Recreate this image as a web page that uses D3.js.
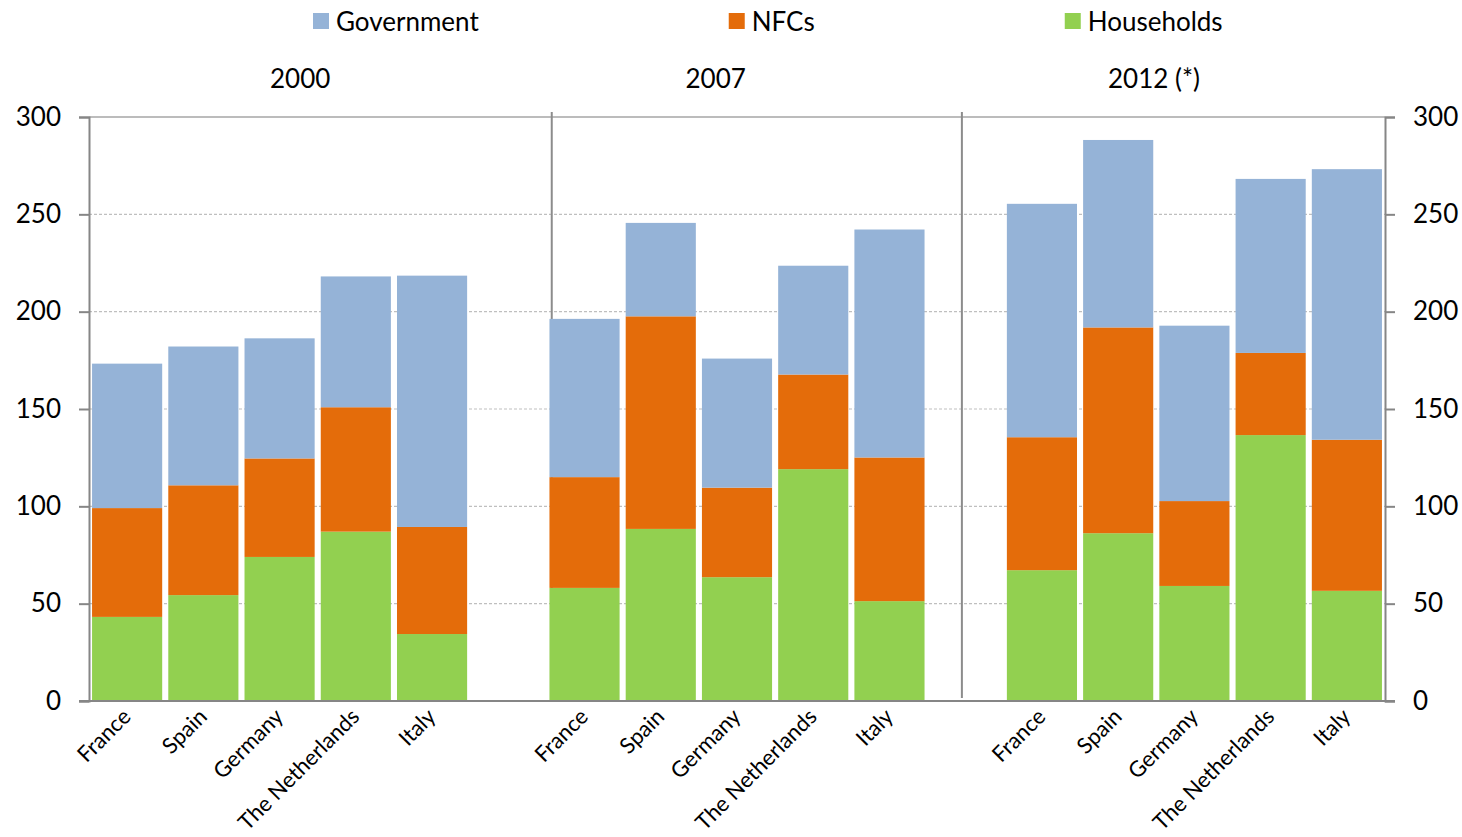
<!DOCTYPE html>
<html>
<head>
<meta charset="utf-8">
<script src="https://cdn.jsdelivr.net/npm/d3@7/dist/d3.min.js"></script>
<style>
  html, body { margin: 0; padding: 0; background: #fff; }
  svg { display: block; font-family: Lato, "Open Sans", sans-serif; }
</style>
</head>
<body>
<svg id="chart" width="1462" height="837"></svg>
<script>
// Debt by sector (% of GDP), stacked per country for three years
const years = ["2000", "2007", "2012 (*)"];
const countries = ["France", "Spain", "Germany", "The Netherlands", "Italy"];
const seriesNames = ["Households", "NFCs", "Government"];
const legendOrder = ["Government", "NFCs", "Households"];
const seriesColors = ["#92D050", "#E46C0A", "#95B3D7"];

// values listed year by year, countries in the order above
const households = [43.2, 54.4, 74.0, 87.0, 34.4,
                    58.1, 88.4, 63.6, 119.1, 51.3,
                    67.2, 86.2, 59.1, 136.6, 56.6];
const nfcs       = [55.9, 56.4, 50.6, 63.9, 55.0,
                    56.9, 109.2, 46.0, 48.6, 73.8,
                    68.3, 105.7, 43.6, 42.2, 77.6];
const government = [74.2, 71.3, 61.7, 67.2, 129.1,
                    81.3, 48.0, 66.3, 55.9, 117.1,
                    119.9, 96.3, 90.1, 89.4, 139.0];

const yTicks = [0, 50, 100, 150, 200, 250, 300];

const svg = d3.select("#chart");
const W = 1462, H = 837;
const margin = { top: 117, right: 77, bottom: 136, left: 89 };
const x0 = margin.left, x1 = W - margin.right;
const yTop = margin.top, yBot = H - margin.bottom;

// one slot per bar plus an empty slot between year groups
const slotsPerGroup = countries.length + 1;
const nSlots = years.length * slotsPerGroup - 1;

const rows = [];
years.forEach((yr, g) => {
  countries.forEach((c, i) => {
    const k = g * countries.length + i;
    rows.push({
      slot: g * slotsPerGroup + i, year: yr, country: c,
      Households: households[k], NFCs: nfcs[k], Government: government[k]
    });
  });
});

const x = d3.scaleBand()
  .domain(d3.range(nSlots))
  .range([x0, x1])
  .paddingInner(0.08)
  .paddingOuter(0.04);

// continuous slot scale for group dividers and year titles
const xs = d3.scaleLinear().domain([0, nSlots]).range([x0, x1]);

const y = d3.scaleLinear().domain([0, 300]).range([yBot, yTop]);

const color = d3.scaleOrdinal().domain(seriesNames).range(seriesColors);

// gridlines
svg.append("g")
  .selectAll("line")
  .data(yTicks.filter(t => t > 0 && t < 300))
  .join("line")
  .attr("x1", x0).attr("x2", x1)
  .attr("y1", d => y(d)).attr("y2", d => y(d))
  .attr("stroke", "#bfbfbf")
  .attr("stroke-width", 1.2)
  .attr("stroke-dasharray", "3,2");

// top border of the plot area
svg.append("line")
  .attr("x1", x0).attr("x2", x1)
  .attr("y1", y(300)).attr("y2", y(300))
  .attr("stroke", "#a6a6a6").attr("stroke-width", 1.5);

// group dividers
const dividerSlots = [6.07, 11.45];
svg.append("g")
  .selectAll("line")
  .data(dividerSlots)
  .join("line")
  .attr("x1", d => xs(d)).attr("x2", d => xs(d))
  .attr("y1", yTop - 5).attr("y2", (d, i) => i === 0 ? yBot : yBot - 3)
  .attr("stroke", "#8c8c8c").attr("stroke-width", 2);

// stacked bars
const stack = d3.stack().keys(seriesNames);
const stacked = stack(rows);

svg.append("g")
  .selectAll("g")
  .data(stacked)
  .join("g")
  .attr("fill", d => color(d.key))
  .selectAll("rect")
  .data(d => d)
  .join("rect")
  .attr("x", d => x(d.data.slot))
  .attr("width", x.bandwidth())
  .attr("y", d => y(d[1]))
  .attr("height", d => y(d[0]) - y(d[1]));

// axes
const axisColor = "#868686";
const fontSize = 26;

const leftAxis = svg.append("g")
  .attr("transform", `translate(${x0},0)`)
  .call(d3.axisLeft(y).tickValues(yTicks).tickSize(10).tickPadding(18));
const rightAxis = svg.append("g")
  .attr("transform", `translate(${x1},0)`)
  .call(d3.axisRight(y).tickValues(yTicks).tickSize(10).tickPadding(18));

[leftAxis, rightAxis].forEach(a => {
  a.select(".domain").attr("stroke", axisColor).attr("stroke-width", 2);
  a.selectAll(".tick line").attr("stroke", axisColor).attr("stroke-width", 2);
  a.selectAll(".tick text")
    .attr("fill", "#000")
    .style("font-size", fontSize + "px")
    .style("font-family", "Lato, sans-serif");
});

// category axis
svg.append("line")
  .attr("x1", x0 - 10).attr("x2", x1 + 10)
  .attr("y1", yBot).attr("y2", yBot)
  .attr("stroke", axisColor).attr("stroke-width", 2);

svg.append("g")
  .selectAll("text")
  .data(rows)
  .join("text")
  .attr("transform", d => {
    const cx = x(d.slot) + x.bandwidth() / 2 + 5;
    return `translate(${cx},${yBot + 17}) rotate(-45)`;
  })
  .attr("text-anchor", "end")
  .style("font-size", "22px")
  .attr("fill", "#000")
  .text(d => d.country);

// year titles
const yearSlots = [2.77, 8.22, 13.97];
svg.append("g")
  .selectAll("text")
  .data(years)
  .join("text")
  .attr("x", (d, i) => xs(yearSlots[i]))
  .attr("y", 88)
  .attr("text-anchor", "middle")
  .style("font-size", fontSize + "px")
  .attr("fill", "#000")
  .text(d => d);

// legend
const legend = svg.append("g").attr("transform", "translate(313,0)");
let lx = 0;
legendOrder.forEach(name => {
  const item = legend.append("g").attr("transform", `translate(${lx},0)`);
  item.append("rect")
    .attr("x", 0).attr("y", 13).attr("width", 16).attr("height", 16)
    .attr("fill", color(name));
  const t = item.append("text")
    .attr("x", 23).attr("y", 31)
    .style("font-size", fontSize + "px")
    .attr("fill", "#000")
    .text(name);
  lx += 23 + t.node().getComputedTextLength() + 250;
});
</script>
</body>
</html>
